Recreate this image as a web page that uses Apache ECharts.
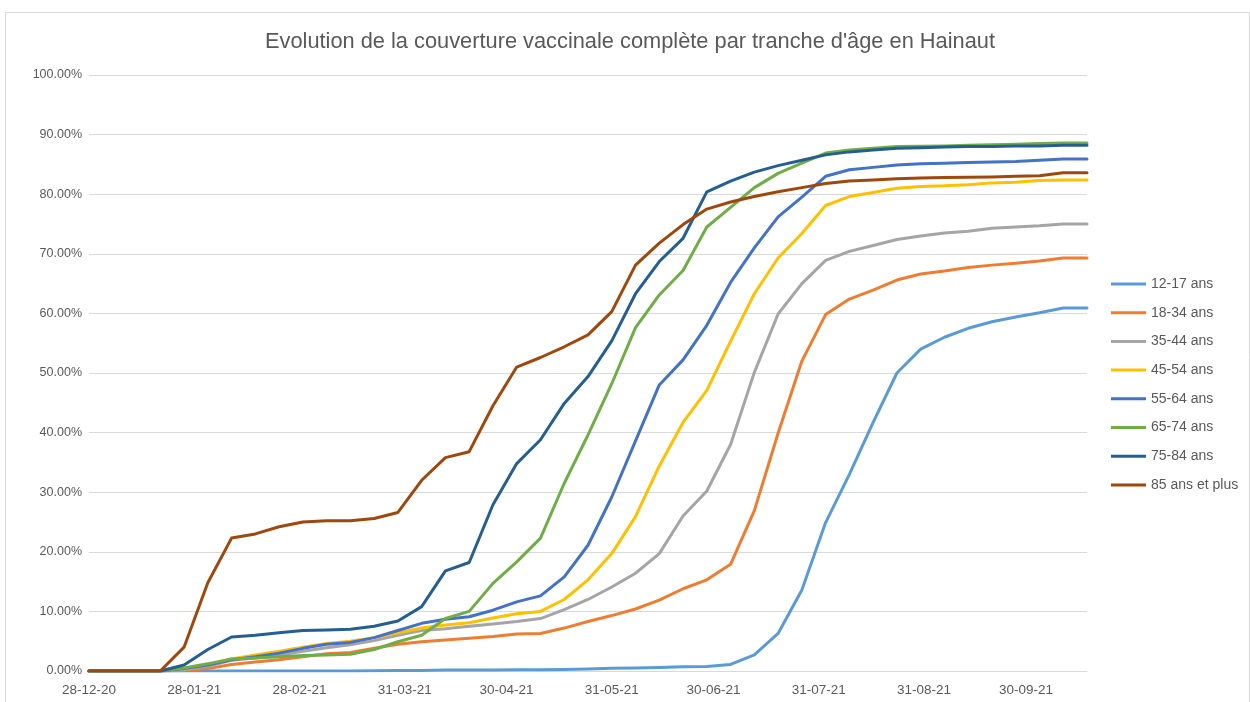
<!DOCTYPE html>
<html>
<head>
<meta charset="utf-8">
<script src="https://cdn.jsdelivr.net/npm/echarts@6/dist/echarts.min.js"></script>
<style>
html,body{margin:0;padding:0;background:#fff;}
#chart{width:1250px;height:702px;}
</style>
</head>
<body>
<div id="chart"></div>
<script>
// Weekly dates (Mondays)
const dates = ['2020-12-28','2021-01-04','2021-01-11','2021-01-18','2021-01-25','2021-02-01','2021-02-08','2021-02-15','2021-02-22','2021-03-01','2021-03-08','2021-03-15','2021-03-22','2021-03-29','2021-04-05','2021-04-12','2021-04-19','2021-04-26','2021-05-03','2021-05-10','2021-05-17','2021-05-24','2021-05-31','2021-06-07','2021-06-14','2021-06-21','2021-06-28','2021-07-05','2021-07-12','2021-07-19','2021-07-26','2021-08-02','2021-08-09','2021-08-16','2021-08-23','2021-08-30','2021-09-06','2021-09-13','2021-09-20','2021-09-27','2021-10-04','2021-10-11','2021-10-18'];

// X-axis tick labels (dates shown on the axis)
const tickDates = ['2020-12-28','2021-01-28','2021-02-28','2021-03-31','2021-04-30','2021-05-31','2021-06-30','2021-07-31','2021-08-31','2021-09-30'];

const seriesNames = ['12-17 ans','18-34 ans','35-44 ans','45-54 ans','55-64 ans','65-74 ans','75-84 ans','85 ans et plus'];

// values in percent
const v12_17 = [0,0,0,0,0,0,0,0,0,0,0,0,0.05,0.1,0.1,0.15,0.15,0.15,0.2,0.2,0.25,0.35,0.45,0.5,0.6,0.7,0.75,1.1,2.7,6.3,13.6,24.9,33.0,41.7,50.0,54.0,56.0,57.5,58.6,59.4,60.1,60.9,60.9];
const v18_34 = [0,0,0,0,0.1,0.4,1.1,1.5,1.9,2.4,2.9,3.1,3.8,4.5,4.9,5.2,5.5,5.8,6.2,6.3,7.2,8.3,9.3,10.4,11.9,13.8,15.3,17.9,26.9,39.9,52.0,59.8,62.4,63.9,65.6,66.6,67.1,67.7,68.1,68.4,68.8,69.3,69.3];
const v35_44 = [0,0,0,0,0.2,0.8,1.8,2.2,2.7,3.3,3.9,4.4,5.1,6.0,6.8,7.1,7.5,7.9,8.3,8.8,10.3,12.0,14.1,16.4,19.7,26.0,30.2,38.0,50.1,59.9,65.0,68.9,70.4,71.4,72.4,73.0,73.5,73.8,74.3,74.5,74.7,75.0,75.0];
const v45_54 = [0,0,0,0,0.4,1.1,2.0,2.7,3.3,4.0,4.6,5.0,5.6,6.4,7.2,7.7,8.1,8.9,9.6,10.0,12.0,15.3,19.7,25.9,34.4,41.7,47.1,55.3,63.3,69.3,73.4,78.1,79.6,80.3,81.0,81.3,81.4,81.6,81.9,82.0,82.3,82.4,82.4];
const v55_64 = [0,0,0,0,0.4,1.0,1.9,2.4,3.0,3.8,4.5,4.8,5.6,6.8,8.0,8.7,9.1,10.2,11.6,12.6,15.8,21.1,29.2,38.6,48.0,52.2,58.0,65.2,71.0,76.2,79.5,83.0,84.1,84.5,84.9,85.1,85.2,85.3,85.4,85.5,85.7,85.9,85.9];
const v65_74 = [0,0,0,0,0.5,1.2,2.0,2.2,2.4,2.6,2.7,2.8,3.6,4.9,6.0,8.8,10.0,14.7,18.3,22.3,31.5,39.6,48.2,57.6,63.1,67.2,74.5,77.8,81.1,83.5,85.2,86.9,87.4,87.7,88.0,88.05,88.1,88.2,88.3,88.4,88.5,88.6,88.6];
const v75_84 = [0,0,0,0,1.0,3.6,5.7,6.0,6.4,6.8,6.9,7.0,7.5,8.4,10.8,16.8,18.2,27.9,34.8,38.8,44.9,49.4,55.4,63.3,68.7,72.6,80.4,82.2,83.7,84.8,85.7,86.6,87.1,87.4,87.7,87.8,87.9,88.0,88.0,88.1,88.1,88.2,88.2];
const v85p = [0,0,0,0,4.0,14.8,22.3,23.0,24.2,25.0,25.2,25.2,25.6,26.6,32.0,35.8,36.8,44.5,51.0,52.6,54.4,56.4,60.3,68.1,71.8,74.9,77.5,78.7,79.6,80.4,81.1,81.8,82.2,82.4,82.6,82.7,82.8,82.85,82.9,83.0,83.1,83.6,83.6];

const allValues = [v12_17, v18_34, v35_44, v45_54, v55_64, v65_74, v75_84, v85p];
const colors = ['#5B9BD5','#ED7D31','#A5A5A5','#FFC000','#4472C4','#70AD47','#255E91','#9E480E'];

const DAY = 86400000;
function toUtc(s){ const p = s.split('-'); return Date.UTC(+p[0], +p[1]-1, +p[2]); }
const t0 = toUtc(dates[0]);
function dayOf(s){ return Math.round((toUtc(s) - t0) / DAY); }
function pad(n){ return (n<10?'0':'')+n; }
function fmtDay(v){ const d = new Date(t0 + Math.round(v) * DAY); return pad(d.getUTCDate())+'-'+pad(d.getUTCMonth()+1)+'-'+pad(d.getUTCFullYear()%100); }

const FONT = 'Liberation Sans';
const chart = echarts.init(document.getElementById('chart'));
chart.setOption({
  animation: false,
  backgroundColor: '#ffffff',
  color: colors,
  graphic: [{
    type: 'rect', left: 3, top: 10, z: -10, silent: true,
    shape: { x: 0, y: 0, width: 1244, height: 710 },
    style: { fill: 'none', stroke: '#d9d9d9', lineWidth: 1 }
  }],
  title: {
    text: 'Evolution de la couverture vaccinale complète par tranche d\'âge en Hainaut',
    left: 265, top: 31, padding: 0,
    textStyle: { fontFamily: FONT, fontSize: 21.8, fontWeight: 'normal', color: '#595959' }
  },
  legend: {
    orient: 'vertical', left: 1111, top: 276, padding: 0,
    itemWidth: 35, itemHeight: 3, itemGap: 12.7,
    icon: 'rect',
    data: seriesNames,
    textStyle: { fontFamily: FONT, fontSize: 14, color: '#595959', lineHeight: 16 }
  },
  grid: { left: 89, right: 163, top: 75, bottom: 31, containLabel: false },
  xAxis: {
    type: 'value',
    min: 0, max: dayOf(dates[dates.length-1]),
    axisLine: { show: true, lineStyle: { color: '#d9d9d9', width: 1 } },
    axisTick: { show: false },
    splitLine: { show: false },
    axisLabel: {
      customValues: tickDates.map(dayOf),
      formatter: function(v){ return fmtDay(v); },
      fontFamily: FONT, fontSize: 13.5, color: '#595959', margin: 12,
      showMinLabel: true, hideOverlap: false
    }
  },
  yAxis: {
    type: 'value', min: 0, max: 100, interval: 10,
    axisLine: { show: false }, axisTick: { show: false },
    splitLine: { lineStyle: { color: '#d9d9d9', width: 1 } },
    axisLabel: {
      formatter: function(v){ return v.toFixed(2) + '%'; },
      fontFamily: FONT, fontSize: 12.5, color: '#595959', margin: 7
    }
  },
  series: seriesNames.map(function(name, i){
    return {
      name: name, type: 'line', showSymbol: false, symbol: 'none',
      lineStyle: { width: 3, color: colors[i], cap: 'round', join: 'round' },
      itemStyle: { color: colors[i] },
      data: dates.map(function(d, j){ return [dayOf(d), allValues[i][j]]; })
    };
  })
});
</script>
</body>
</html>
